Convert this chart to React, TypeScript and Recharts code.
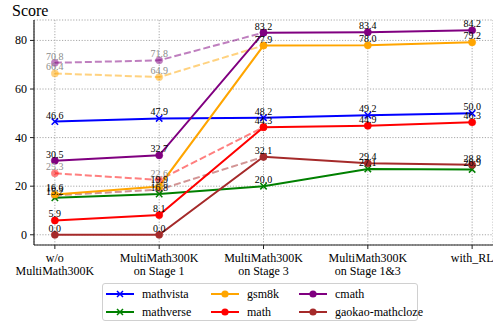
import React from 'react';
import { LineChart, Line, XAxis, YAxis, CartesianGrid, LabelList } from 'recharts';

const categories = [
  'w/o\nMultiMath300K',
  'MultiMath300K\non Stage 1',
  'MultiMath300K\non Stage 3',
  'MultiMath300K\non Stage 1&3',
  'with_RL',
];
const mathvista = [46.6, 47.9, 48.2, 49.2, 50.0];
const mathverse = [15.2, 16.8, 20.0, 27.1, 26.9];
const gsm8k = [16.6, 19.9, 77.9, 78.0, 79.2];
const math = [5.9, 8.1, 44.3, 44.9, 46.3];
const cmath = [30.5, 32.7, 83.2, 83.4, 84.2];
const gaokao = [0.0, 0.0, 32.1, 29.4, 28.8];

const cmathBase = [70.8, 71.8, 83.2];
const gsm8kBase = [66.4, 64.9, 77.9];
const mathBase = [25.3, 22.6, 44.3];
const gaokaoBase = [16.2, 18.6, 32.1];

const yTicks = [0, 20, 40, 60, 80];
const xTicks = [0, 1, 2, 3, 4];

const FONT = 'Liberation Serif';

type Series = { key: string; name: string; color: string; values: number[]; marker: 'x' | 'o' };

const solidSeries: Series[] = [
  { key: 'mathvista', name: 'mathvista', color: '#0000ff', values: mathvista, marker: 'x' },
  { key: 'mathverse', name: 'mathverse', color: '#008000', values: mathverse, marker: 'x' },
  { key: 'gsm8k', name: 'gsm8k', color: '#ffa500', values: gsm8k, marker: 'o' },
  { key: 'math', name: 'math', color: '#ff0000', values: math, marker: 'o' },
  { key: 'cmath', name: 'cmath', color: '#800080', values: cmath, marker: 'o' },
  { key: 'gaokao', name: 'gaokao-mathcloze', color: '#a52a2a', values: gaokao, marker: 'o' },
];

const dashedSeries: Series[] = [
  { key: 'cmathBase', name: 'cmath base', color: '#800080', values: cmathBase, marker: 'o' },
  { key: 'gsm8kBase', name: 'gsm8k base', color: '#ffa500', values: gsm8kBase, marker: 'o' },
  { key: 'mathBase', name: 'math base', color: '#ff0000', values: mathBase, marker: 'o' },
  { key: 'gaokaoBase', name: 'gaokao base', color: '#a52a2a', values: gaokaoBase, marker: 'o' },
];

const data = categories.map((c, i) => {
  const row: any = { x: i };
  solidSeries.forEach((s) => (row[s.key] = s.values[i]));
  dashedSeries.forEach((s) => (row[s.key] = i < s.values.length ? s.values[i] : null));
  return row;
});

const makeDot = (color: string, marker: 'x' | 'o', opacity: number) => (props: any) => {
  const { cx, cy, index, value } = props;
  if (cx == null || cy == null || value == null) return <g key={`d${index}`} />;
  if (marker === 'x') {
    const s = 3.2;
    return (
      <path
        key={`d${index}`}
        d={`M${cx - s},${cy - s}L${cx + s},${cy + s}M${cx - s},${cy + s}L${cx + s},${cy - s}`}
        stroke={color}
        strokeWidth={1.5}
        fill="none"
        opacity={opacity}
      />
    );
  }
  return <circle key={`d${index}`} cx={cx} cy={cy} r={3.6} fill={color} stroke={color} strokeWidth={0.5} opacity={opacity} />;
};

const makeLabel = (fill: string, maxIndex: number) => (props: any) => {
  const { value, index } = props;
  const x = props.x ?? props.viewBox?.x;
  const y = props.y ?? props.viewBox?.y;
  if (value == null || index > maxIndex || x == null || y == null) return null;
  return (
    <text x={x} y={y - 3} textAnchor="middle" fontSize={10} fill={fill} fontFamily={FONT}>
      {Number(value).toFixed(1)}
    </text>
  );
};

const XTick = (props: any) => {
  const { x, y, payload } = props;
  const idx = Math.round(payload.value);
  const lines = (categories[idx] || '').split('\n');
  return (
    <text x={x} y={y + 13} textAnchor="middle" fontSize={12} fill="#000" fontFamily={FONT}>
      {lines.map((l, i) => (
        <tspan key={i} x={x} dy={i === 0 ? 0 : 13}>
          {l}
        </tspan>
      ))}
    </text>
  );
};

const YTick = (props: any) => {
  const { x, y, payload } = props;
  return (
    <text x={x} y={y + 4} textAnchor="end" fontSize={12} fill="#000" fontFamily={FONT}>
      {payload.value}
    </text>
  );
};

const legendOrder = ['mathvista', 'gsm8k', 'cmath', 'mathverse', 'math', 'gaokao'];
const legendCols = [3, 108, 196];
const legendRows = [10, 28];

export default function App() {
  return (
    <div style={{ position: 'fixed', left: 0, top: 0, width: 493, height: 323, background: '#fff', fontFamily: FONT }}>
      <LineChart
        width={493}
        height={323}
        data={data}
        margin={{ top: 20, right: 0, left: 0, bottom: 0 }}
      >
        <CartesianGrid stroke="#a8a8a8" strokeDasharray="1.2 1.6" strokeWidth={1} />
        <XAxis
          dataKey="x"
          type="number"
          domain={[-0.2, 4.2]}
          ticks={xTicks}
          interval={0}
          tick={<XTick />}
          tickSize={4}
          tickMargin={0}
          axisLine={{ stroke: '#222', strokeWidth: 1.2 }}
          tickLine={{ stroke: '#222' }}
          height={78}
        />
        <YAxis
          type="number"
          domain={[-4.21, 88.41]}
          ticks={yTicks}
          allowDataOverflow
          width={34}
          tickSize={4}
          tickMargin={3}
          tick={<YTick />}
          axisLine={{ stroke: '#222', strokeWidth: 1.2 }}
          tickLine={{ stroke: '#222' }}
        />
        {dashedSeries.map((s) => (
          <Line
            key={s.key}
            dataKey={s.key}
            stroke={s.color}
            strokeOpacity={0.5}
            strokeWidth={2}
            strokeDasharray="7 3"
            dot={makeDot(s.color, s.marker, 0.5)}
            activeDot={false}
            isAnimationActive={false}
            connectNulls={false}
          >
            <LabelList dataKey={s.key} content={makeLabel('#8c8c8c', 1)} />
          </Line>
        ))}
        {solidSeries.map((s) => (
          <Line
            key={s.key}
            dataKey={s.key}
            stroke={s.color}
            strokeWidth={2}
            dot={makeDot(s.color, s.marker, 1)}
            activeDot={false}
            isAnimationActive={false}
          >
            <LabelList dataKey={s.key} content={makeLabel('#000', 99)} />
          </Line>
        ))}
      </LineChart>
      <div
        style={{
          position: 'absolute',
          left: 12,
          top: 1,
          fontFamily: FONT,
          fontSize: 16,
          lineHeight: '20px',
          color: '#000',
        }}
      >
        Score
      </div>
      <div
        style={{
          position: 'absolute',
          left: 102,
          top: 283,
          width: 316,
          height: 38,
          border: '1px solid #d0d0d0',
          borderRadius: 3,
          background: '#fff',
          fontFamily: FONT,
          fontSize: 12,
          boxSizing: 'border-box',
        }}
      >
        {legendOrder.map((k, i) => {
          const s = solidSeries.find((q) => q.key === k)!;
          const col = i % 3;
          const row = Math.floor(i / 3);
          const left = legendCols[col];
          const top = legendRows[row];
          return (
            <div key={k} style={{ position: 'absolute', left, top: top - 8, height: 16, display: 'flex', alignItems: 'center' }}>
              <svg width={28} height={16} style={{ display: 'block' }}>
                <line x1={0} y1={8} x2={28} y2={8} stroke={s.color} strokeWidth={2} />
                {s.marker === 'x' ? (
                  <path d="M11,5L17,11M11,11L17,5" stroke={s.color} strokeWidth={1.5} />
                ) : (
                  <circle cx={14} cy={8} r={3.6} fill={s.color} />
                )}
              </svg>
              <span style={{ marginLeft: 8, whiteSpace: 'nowrap', lineHeight: '16px' }}>{s.name}</span>
            </div>
          );
        })}
      </div>
    </div>
  );
}
